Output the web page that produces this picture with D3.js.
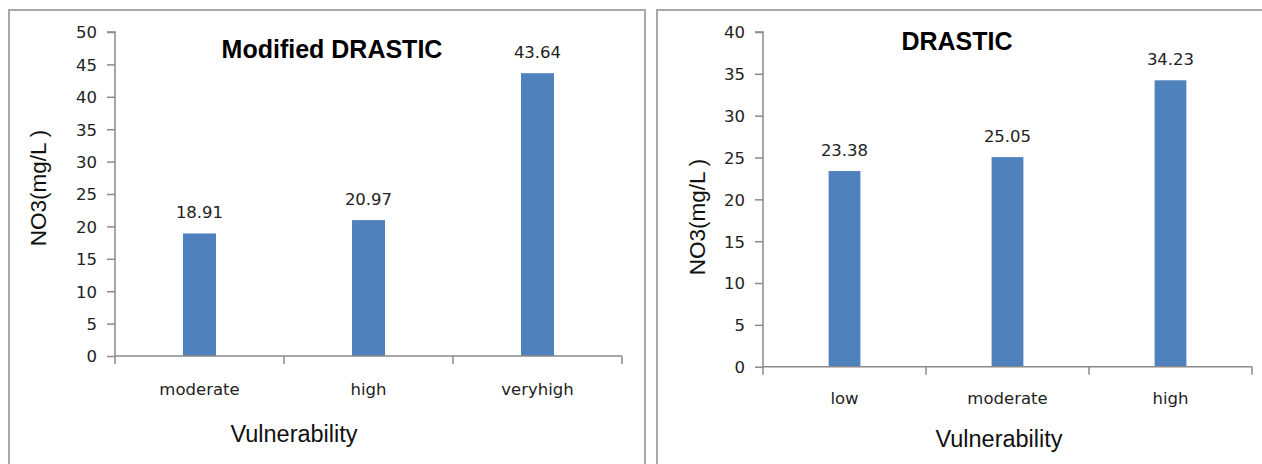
<!DOCTYPE html>
<html>
<head>
<meta charset="utf-8">
<script src="https://cdn.jsdelivr.net/npm/d3@7"></script>
<style>
  html, body { margin: 0; padding: 0; background: #fff; }
  svg { display: block; }
</style>
</head>
<body>
<svg id="chart" width="1262" height="464"></svg>
<script>
// ---- data ----
const leftTitle = "Modified DRASTIC";
const leftCategories = ["moderate", "high", "veryhigh"];
const leftValues = [18.91, 20.97, 43.64];
const leftTicks = [0, 5, 10, 15, 20, 25, 30, 35, 40, 45, 50];

const rightTitle = "DRASTIC";
const rightCategories = ["low", "moderate", "high"];
const rightValues = [23.38, 25.05, 34.23];
const rightTicks = [0, 5, 10, 15, 20, 25, 30, 35, 40];

const yTitle = "NO3(mg/L )";
const xTitle = "Vulnerability";

const svg = d3.select("#chart");

function panel(cfg) {
  const g = svg.append("g");
  // panel border
  g.append("rect")
    .attr("x", cfg.box[0]).attr("y", cfg.box[1])
    .attr("width", cfg.box[2]).attr("height", cfg.box[3])
    .attr("fill", "none").attr("stroke", "#a8a8a8").attr("stroke-width", 2);

  const x = d3.scaleBand()
    .domain(cfg.categories)
    .range([cfg.left, cfg.right])
    .paddingInner(0.805)
    .paddingOuter(0.4025);
  const y = d3.scaleLinear()
    .domain([0, d3.max(cfg.ticks)])
    .range([cfg.bottom, cfg.top]);

  // bars
  g.selectAll("rect.bar").data(cfg.values).enter().append("rect")
    .attr("class", "bar")
    .attr("x", (d, i) => x(cfg.categories[i]))
    .attr("y", d => y(d))
    .attr("width", x.bandwidth())
    .attr("height", d => y(0) - y(d))
    .attr("fill", "#4f81bd");

  // y axis
  const yAxis = d3.axisLeft(y).tickValues(cfg.ticks).tickSize(8).tickPadding(10).tickFormat(d3.format("d"));
  const ya = g.append("g").attr("transform", `translate(${cfg.left},0)`).call(yAxis);
  ya.select(".domain").attr("stroke", "#8a8a8a").attr("stroke-width", 1.5).attr("d", `M-8,${y(d3.max(cfg.ticks))}H0V${cfg.bottom}`);
  ya.selectAll(".tick line").attr("stroke", "#8a8a8a").attr("stroke-width", 1.5);
  ya.selectAll(".tick text")
    .attr("font-family", "DejaVu Sans").attr("font-size", 16.5)
    .attr("fill", "#222").attr("dy", "0.36em");

  // x axis baseline and ticks at band boundaries
  const step = x.step();
  g.append("line")
    .attr("x1", cfg.left).attr("x2", cfg.right)
    .attr("y1", y(0)).attr("y2", y(0))
    .attr("stroke", "#8a8a8a").attr("stroke-width", 1.5);
  const bounds = d3.range(cfg.categories.length + 1).map(i => cfg.left + i * step);
  g.selectAll("line.xt").data(bounds).enter().append("line")
    .attr("class", "xt")
    .attr("x1", d => d).attr("x2", d => d)
    .attr("y1", y(0)).attr("y2", y(0) + 8)
    .attr("stroke", "#8a8a8a").attr("stroke-width", 1.5);

  // category labels
  g.selectAll("text.cat").data(cfg.categories).enter().append("text")
    .attr("class", "cat")
    .attr("x", d => x(d) + x.bandwidth() / 2)
    .attr("y", y(0) + cfg.catOffset)
    .attr("text-anchor", "middle")
    .attr("font-family", "DejaVu Sans").attr("font-size", 16.5)
    .attr("fill", "#222")
    .text(d => d);

  // value labels
  g.selectAll("text.val").data(cfg.values).enter().append("text")
    .attr("class", "val")
    .attr("x", (d, i) => x(cfg.categories[i]) + x.bandwidth() / 2)
    .attr("y", d => y(d) - 15)
    .attr("text-anchor", "middle")
    .attr("font-family", "DejaVu Sans").attr("font-size", 16.5)
    .attr("fill", "#222")
    .text(d => d.toFixed(2));

  // title
  g.append("text")
    .attr("x", cfg.titleX).attr("y", cfg.titleY)
    .attr("text-anchor", "middle")
    .attr("font-family", "Liberation Sans").attr("font-weight", "bold")
    .attr("font-size", 25).attr("fill", "#000")
    .text(cfg.title);

  // y title
  g.append("text")
    .attr("transform", `translate(${cfg.yTitleX},${cfg.yTitleY}) rotate(-90)`)
    .attr("text-anchor", "middle")
    .attr("font-family", "Liberation Sans").attr("font-size", 22.5)
    .attr("fill", "#111")
    .text(yTitle);

  // x title
  g.append("text")
    .attr("x", cfg.xTitleX).attr("y", cfg.xTitleY)
    .attr("text-anchor", "middle")
    .attr("font-family", "Liberation Sans").attr("font-size", 23.5)
    .attr("fill", "#111")
    .text(xTitle);
}

panel({
  box: [9, 10, 636, 470],
  left: 115, right: 622, top: 32, bottom: 356,
  categories: leftCategories, values: leftValues, ticks: leftTicks,
  catOffset: 39, title: leftTitle, titleX: 332, titleY: 58,
  yTitleX: 46, yTitleY: 188, xTitleX: 294, xTitleY: 442
});

panel({
  box: [657, 10, 620, 470],
  left: 763, right: 1252, top: 32, bottom: 366.7,
  categories: rightCategories, values: rightValues, ticks: rightTicks,
  catOffset: 37, title: rightTitle, titleX: 957, titleY: 50,
  yTitleX: 705, yTitleY: 217, xTitleX: 999, xTitleY: 447
});
</script>
</body>
</html>
